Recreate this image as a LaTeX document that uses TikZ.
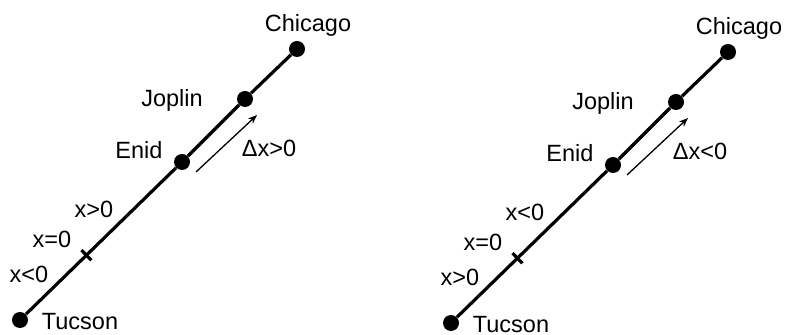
\documentclass[tikz,border=0pt]{standalone}
\usepackage{fontspec}
\setmainfont{Liberation Sans}
\usetikzlibrary{arrows.meta, calc}

\tikzset{
  city/.style={circle, fill, inner sep=0pt, minimum size=8pt},
  road/.style={line width=1.6pt},
  lbl/.style={anchor=base, inner sep=0pt, font=\fontsize{11.75}{14}\selectfont},
  move/.style={line width=0.65pt, -{Stealth[length=4.5pt, width=3.5pt]}}
}

\begin{document}
\begin{tikzpicture}[x=0.5pt, y=-0.5pt]
  \useasboundingbox (0,0) rectangle (786,335);
  % l = left panel, r = right panel (same road, sign convention flipped)
  \foreach \p/\dx/\dy/\low/\high/\sgn in {l/0/0/x<0/x>0/>, r/431/3/x>0/x<0/<}{
    \begin{scope}[shift={(\dx,\dy)}]
      \node[city] (tucson\p) at (20,320) {};
      \node[city] (enid\p) at (182,162) {};
      \node[city] (joplin\p) at (245,99) {};
      \node[city] (chicago\p) at (297,49) {};
      \draw[road] (tucson\p) -- (enid\p) -- (joplin\p) -- (chicago\p);

      % origin tick
      \path (tucson\p.center) -- coordinate[pos=0.41] (zero\p) (enid\p.center);
      \draw[road] ($(zero\p)+(-5,-5.1)$) -- ($(zero\p)+(5,5.1)$);

      % displacement arrow
      \coordinate (from\p) at ([shift={(14,10)}]enid\p.center);
      \coordinate (to\p) at ([shift={(12,16)}]joplin\p.center);
      \draw[move] (from\p) -- (to\p);

      \node[lbl] (tucsonlbl\p) at (80,330) {Tucson};
      \node[lbl] (enidlbl\p) at (139,159) {Enid};
      \node[lbl] (joplinlbl\p) at (172,107) {Joplin};
      \node[lbl] (chicagolbl\p) at (308,32) {Chicago};
      \node[lbl] (dxlbl\p) at (269,157) {Δx\sgn0};
      \node[lbl] (highlbl\p) at (94,218) {\high};
      \node[lbl] (zerolbl\p) at (52,248) {x=0};
      \node[lbl] (lowlbl\p) at (29,283) {\low};
    \end{scope}
  }
\end{tikzpicture}
\end{document}
